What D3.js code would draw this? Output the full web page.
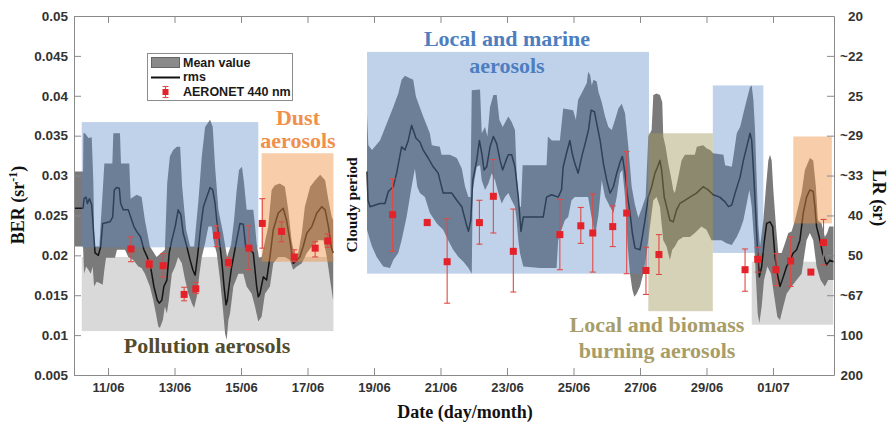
<!DOCTYPE html>
<html>
<head>
<meta charset="utf-8">
<script src="https://cdn.jsdelivr.net/npm/d3@7"></script>
<style>
  body { margin: 0; background: #fff; }
  svg { display: block; }
</style>
</head>
<body>
<svg id="chart" width="891" height="428"></svg>
<script>
// Time is a fractional day counted in June (31 = 1 July, 32 = 2 July).
// Each envelope/curve is a list of [day, BER (sr^-1)] vertices.

// ---- First observation period (10/06 - 17/06) ----
const upperA = [[10.00,.0305],[10.25,.0305],[10.26,.0353],[10.31,.0353],[10.41,.0347],[10.51,.0348],[10.56,.0291],[10.59,.0211],[10.74,.0211],[10.78,.0240],[10.83,.0273],[10.89,.0315],[11.13,.0315],[11.16,.0353],[11.36,.0353],[11.39,.0315],[11.64,.0315],[11.68,.0271],[11.86,.0276],[12.01,.0273],[12.11,.0244],[12.26,.0211],[12.46,.0198],[12.71,.0207],[12.78,.0290],[12.86,.0324],[12.96,.0332],[13.07,.0336],[13.17,.0336],[13.23,.0286],[13.35,.0232],[13.47,.0211],[13.59,.0211],[13.72,.0269],[13.82,.0324],[13.92,.0361],[14.07,.0370],[14.15,.0361],[14.22,.0311],[14.32,.0257],[14.46,.0228],[14.58,.0198],[14.70,.0213],[14.79,.0244],[14.87,.0282],[14.94,.0307],[15.03,.0311],[15.09,.0291],[15.17,.0257],[15.37,.0257],[15.42,.0238],[15.47,.0215],[15.54,.0197],[15.62,.0198],[15.82,.0236],[15.92,.0282],[16.02,.0288],[16.17,.0290],[16.32,.0286],[16.42,.0257],[16.52,.0219],[16.62,.0198],[16.72,.0203],[16.83,.0228],[16.92,.0261],[17.08,.0286],[17.23,.0294],[17.38,.0301],[17.53,.0294],[17.63,.0269],[17.73,.0248],[17.77,.0244]];

const rmsA = [[10.00,.0259],[10.25,.0259],[10.28,.0271],[10.34,.0273],[10.38,.0265],[10.44,.0271],[10.51,.0263],[10.56,.0232],[10.61,.0203],[10.71,.0200],[10.78,.0211],[10.84,.0240],[11.06,.0242],[11.14,.0248],[11.19,.0282],[11.26,.0285],[11.34,.0284],[11.38,.0265],[11.46,.0257],[11.61,.0257],[11.68,.0248],[11.78,.0236],[11.86,.0230],[11.98,.0223],[12.08,.0207],[12.18,.0198],[12.28,.0186],[12.38,.0161],[12.48,.0144],[12.54,.0140],[12.62,.0144],[12.68,.0161],[12.77,.0169],[12.84,.0203],[12.92,.0219],[13.02,.0236],[13.11,.0257],[13.19,.0251],[13.26,.0228],[13.37,.0211],[13.47,.0194],[13.55,.0182],[13.62,.0175],[13.69,.0198],[13.79,.0236],[13.87,.0261],[13.97,.0273],[14.07,.0285],[14.15,.0282],[14.22,.0265],[14.27,.0244],[14.32,.0228],[14.42,.0194],[14.49,.0161],[14.55,.0138],[14.59,.0144],[14.65,.0165],[14.72,.0186],[14.87,.0219],[14.97,.0240],[15.07,.0239],[15.14,.0211],[15.27,.0207],[15.37,.0203],[15.47,.0161],[15.52,.0148],[15.57,.0152],[15.67,.0173],[15.77,.0169],[15.87,.0198],[15.97,.0232],[16.12,.0253],[16.27,.0259],[16.37,.0244],[16.47,.0219],[16.57,.0190],[16.68,.0194],[16.77,.0198],[16.87,.0211],[16.98,.0228],[17.13,.0236],[17.28,.0253],[17.43,.0261],[17.53,.0257],[17.63,.0236],[17.71,.0211],[17.77,.0203]];

const lowerA = [[10.00,.0211],[10.25,.0211],[10.28,.0177],[10.34,.0186],[10.41,.0182],[10.48,.0177],[10.54,.0186],[10.58,.0161],[10.66,.0167],[10.76,.0165],[10.84,.0163],[10.89,.0182],[10.94,.0197],[11.21,.0197],[11.27,.0207],[11.51,.0207],[11.61,.0198],[11.76,.0194],[11.91,.0186],[12.01,.0184],[12.11,.0177],[12.26,.0161],[12.36,.0144],[12.44,.0127],[12.51,.0111],[12.56,.0109],[12.65,.0119],[12.71,.0136],[12.77,.0127],[12.83,.0144],[12.92,.0177],[13.02,.0186],[13.11,.0198],[13.22,.0190],[13.32,.0169],[13.42,.0152],[13.52,.0140],[13.59,.0134],[13.67,.0148],[13.75,.0177],[13.82,.0198],[13.92,.0215],[14.02,.0236],[14.12,.0236],[14.19,.0215],[14.27,.0203],[14.37,.0169],[14.45,.0136],[14.52,.0102],[14.57,.0094],[14.62,.0119],[14.67,.0127],[14.77,.0161],[14.92,.0177],[15.07,.0177],[15.17,.0161],[15.32,.0152],[15.42,.0136],[15.52,.0117],[15.62,.0123],[15.72,.0152],[15.87,.0161],[15.97,.0190],[16.12,.0198],[16.32,.0198],[16.47,.0194],[16.57,.0182],[16.68,.0186],[16.83,.0190],[16.98,.0203],[17.13,.0211],[17.32,.0219],[17.48,.0219],[17.58,.0198],[17.68,.0169],[17.77,.0144]];

// ---- Second observation period (18/06 - 02/07) ----
const upperB = [[18.79,.0376],[18.83,.0338],[18.94,.0332],[19.18,.0344],[19.38,.0365],[19.58,.0386],[19.73,.0403],[19.83,.0420],[19.93,.0425],[20.08,.0422],[20.18,.0420],[20.26,.0399],[20.48,.0374],[20.68,.0353],[20.74,.0338],[20.98,.0336],[21.03,.0326],[21.28,.0326],[21.49,.0322],[21.64,.0309],[21.74,.0286],[21.84,.0273],[21.90,.0273],[21.94,.0407],[22.19,.0408],[22.24,.0353],[22.34,.0361],[22.41,.0349],[22.49,.0386],[22.59,.0401],[22.69,.0401],[22.77,.0370],[22.87,.0361],[23.04,.0374],[23.14,.0367],[23.24,.0357],[23.29,.0303],[23.37,.0261],[23.42,.0261],[23.47,.0313],[24.19,.0313],[24.23,.0349],[24.35,.0344],[24.59,.0344],[24.69,.0384],[24.99,.0382],[25.07,.0370],[25.14,.0395],[25.29,.0407],[25.40,.0416],[25.44,.0430],[25.50,.0426],[25.55,.0413],[25.60,.0420],[25.70,.0418],[25.75,.0405],[25.85,.0392],[25.95,.0374],[26.05,.0361],[26.15,.0357],[26.25,.0370],[26.35,.0384],[26.45,.0390],[26.55,.0378],[26.65,.0336],[26.75,.0286],[26.85,.0263],[26.95,.0247],[27.04,.0257],[27.17,.0273],[27.25,.0349],[27.35,.0357],[27.40,.0401],[27.50,.0403],[27.60,.0401],[27.67,.0392],[27.70,.0349],[27.77,.0336],[27.85,.0315],[27.95,.0294],[28.00,.0282],[28.05,.0278],[28.15,.0298],[28.25,.0319],[28.35,.0326],[28.65,.0326],[28.71,.0336],[28.90,.0338],[29.01,.0334],[29.11,.0332],[29.20,.0328],[29.51,.0326],[29.56,.0313],[29.76,.0311],[29.81,.0324],[29.91,.0353],[30.01,.0361],[30.11,.0378],[30.21,.0395],[30.31,.0411],[30.36,.0413],[30.41,.0395],[30.46,.0357],[30.51,.0294],[30.56,.0236],[30.61,.0211],[30.71,.0244],[30.79,.0286],[30.86,.0319],[30.91,.0326],[30.96,.0319],[31.01,.0282],[31.09,.0236],[31.16,.0203],[31.26,.0203],[31.36,.0215],[31.46,.0228],[31.56,.0230],[31.66,.0244],[31.76,.0261],[31.86,.0278],[31.96,.0307],[32.11,.0322],[32.21,.0319],[32.29,.0286],[32.35,.0244],[32.46,.0240],[32.56,.0223],[32.63,.0228],[32.69,.0236],[32.82,.0236]];

const rmsB = [[18.79,.0305],[18.82,.0269],[18.88,.0261],[19.18,.0265],[19.33,.0265],[19.43,.0280],[19.58,.0286],[19.68,.0303],[19.83,.0336],[19.93,.0332],[20.03,.0344],[20.13,.0363],[20.18,.0357],[20.26,.0347],[20.38,.0342],[20.48,.0332],[20.63,.0322],[20.78,.0311],[20.93,.0303],[21.08,.0278],[21.34,.0278],[21.49,.0269],[21.64,.0261],[21.77,.0240],[21.84,.0230],[21.91,.0244],[21.97,.0294],[22.09,.0319],[22.17,.0344],[22.24,.0328],[22.31,.0307],[22.39,.0311],[22.49,.0336],[22.59,.0349],[22.69,.0340],[22.79,.0319],[22.87,.0307],[22.97,.0319],[23.04,.0326],[23.14,.0326],[23.24,.0311],[23.34,.0273],[23.42,.0230],[23.49,.0248],[24.09,.0248],[24.19,.0273],[24.34,.0276],[24.54,.0273],[24.64,.0282],[24.69,.0311],[24.79,.0328],[24.89,.0344],[24.96,.0328],[25.04,.0315],[25.14,.0303],[25.25,.0324],[25.35,.0340],[25.45,.0357],[25.53,.0382],[25.63,.0380],[25.70,.0365],[25.80,.0344],[25.90,.0315],[26.00,.0294],[26.10,.0278],[26.20,.0286],[26.30,.0303],[26.40,.0317],[26.47,.0324],[26.55,.0303],[26.63,.0273],[26.70,.0253],[26.77,.0228],[26.85,.0209],[27.00,.0207],[27.07,.0223],[27.15,.0244],[27.25,.0273],[27.35,.0286],[27.45,.0303],[27.53,.0311],[27.60,.0319],[27.65,.0307],[27.73,.0273],[27.80,.0261],[27.90,.0244],[28.00,.0242],[28.10,.0257],[28.20,.0265],[28.35,.0269],[28.50,.0273],[28.70,.0278],[28.90,.0286],[29.05,.0282],[29.20,.0276],[29.40,.0273],[29.56,.0267],[29.66,.0261],[29.76,.0263],[29.86,.0278],[30.01,.0298],[30.11,.0319],[30.21,.0336],[30.31,.0353],[30.36,.0344],[30.43,.0294],[30.49,.0244],[30.54,.0203],[30.59,.0173],[30.66,.0186],[30.73,.0215],[30.81,.0240],[30.91,.0242],[30.99,.0236],[31.06,.0198],[31.13,.0177],[31.21,.0161],[31.31,.0173],[31.41,.0186],[31.51,.0194],[31.61,.0203],[31.71,.0207],[31.81,.0219],[31.91,.0253],[32.01,.0273],[32.11,.0282],[32.21,.0280],[32.26,.0261],[32.31,.0236],[32.39,.0223],[32.49,.0203],[32.61,.0188],[32.71,.0194],[32.82,.0192]];

const lowerB = [[18.79,.0232],[18.88,.0219],[18.94,.0211],[19.08,.0198],[19.28,.0186],[19.48,.0184],[19.58,.0194],[19.73,.0203],[19.83,.0219],[19.98,.0248],[20.13,.0286],[20.23,.0309],[20.30,.0286],[20.38,.0278],[20.53,.0273],[20.68,.0253],[20.89,.0240],[21.08,.0232],[21.23,.0219],[21.38,.0207],[21.54,.0198],[21.69,.0192],[21.84,.0184],[21.94,.0177],[21.97,.0282],[22.09,.0311],[22.19,.0313],[22.24,.0294],[22.34,.0282],[22.44,.0290],[22.54,.0303],[22.64,.0294],[22.74,.0278],[22.84,.0265],[22.94,.0273],[23.04,.0278],[23.14,.0269],[23.24,.0261],[23.29,.0244],[23.34,.0219],[23.39,.0203],[23.49,.0186],[23.99,.0184],[24.49,.0184],[24.54,.0219],[24.64,.0232],[24.74,.0244],[24.84,.0248],[24.94,.0269],[25.04,.0273],[25.44,.0273],[25.53,.0251],[25.65,.0225],[25.75,.0251],[25.85,.0294],[25.95,.0273],[26.10,.0261],[26.20,.0253],[26.30,.0273],[26.40,.0303],[26.47,.0307],[26.55,.0273],[26.63,.0211],[26.70,.0177],[26.77,.0157],[26.83,.0148],[26.90,.0152],[27.00,.0161],[27.10,.0177],[27.20,.0203],[27.30,.0236],[27.40,.0269],[27.50,.0273],[27.60,.0261],[27.70,.0219],[27.80,.0211],[27.90,.0194],[27.97,.0207],[28.05,.0211],[28.15,.0219],[28.30,.0223],[28.50,.0223],[28.65,.0228],[28.85,.0236],[29.00,.0232],[29.15,.0219],[29.45,.0219],[29.60,.0215],[29.76,.0213],[29.91,.0223],[30.01,.0232],[30.11,.0244],[30.21,.0265],[30.29,.0282],[30.36,.0261],[30.43,.0219],[30.49,.0169],[30.54,.0127],[30.59,.0115],[30.66,.0136],[30.73,.0169],[30.83,.0186],[30.94,.0177],[31.04,.0148],[31.13,.0123],[31.21,.0119],[31.31,.0136],[31.41,.0152],[31.56,.0161],[31.71,.0169],[31.86,.0177],[32.01,.0219],[32.11,.0228],[32.21,.0219],[32.31,.0186],[32.43,.0169],[32.56,.0161],[32.66,.0169],[32.82,.0169]];

// AERONET 440 nm retrievals: day, BER, lower and upper bound of the error bar
const aeronetDay = [11.69,12.24,12.66,13.29,13.64,14.27,14.62,15.24,15.64,16.22,16.60,17.23,17.61,
                    19.56,20.60,21.20,22.17,22.59,23.19,24.59,25.22,25.58,26.18,26.60,27.18,27.57,
                    30.16,30.54,31.09,31.53,32.14,32.52];
const aeronetBER = [.0208,.0189,.0187,.0151,.0158,.0225,.0191,.0209,.0240,.0230,.0198,.0209,.0218,
                    .0251,.0241,.0192,.0241,.0274,.0205,.0226,.0237,.0228,.0236,.0253,.0181,.0201,
                    .0182,.0195,.0182,.0193,.0179,.0216];
const aeronetLo  = [.0192,.0184,.0173,.0143,.0152,.0211,.0185,.0182,.0209,.0217,.0192,.0198,.0210,
                    .0205,.0238,.0140,.0214,.0228,.0154,.0182,.0215,.0179,.0211,.0177,.0151,.0176,
                    .0155,.0179,.0162,.0161,.0176,.0188];
const aeronetHi  = [.0223,.0194,.0202,.0160,.0166,.0237,.0197,.0237,.0271,.0242,.0207,.0217,.0227,
                    .0296,.0245,.0246,.0269,.0320,.0258,.0270,.0260,.0277,.0262,.0330,.0210,.0226,
                    .0208,.0210,.0202,.0223,.0182,.0245];

// Aerosol-type periods: start/end day and BER span
const periodKind = ["pollution","pollution","marine","marine","marine","dust","dust","biomass"];
const periodStart = [10.21,30.36,10.21,18.79,29.19,15.62,31.61,27.25];
const periodEnd   = [17.78,32.81,15.52,27.27,30.71,17.78,32.77,29.19];
const periodLow   = [.0105,.0113,.0210,.0177,.0203,.0192,.0240,.0130];
const periodHigh  = [.0198,.0192,.0367,.0455,.0413,.0328,.0349,.0353];

// Axis ticks
const berTicks = [0.005,0.01,0.015,0.02,0.025,0.03,0.035,0.04,0.045,0.05];
const berTickLabels = ["0.005","0.01","0.015","0.02","0.025","0.03","0.035","0.04","0.045","0.05"];
const lrTickLabels = ["200","100","~67","50","40","~33","~29","25","~22","20"];
const dateTicks = [11,13,15,17,19,21,23,25,27,29,31];

// ---------------------------------------------------------------
const toDate = d => new Date(Date.UTC(2013, 5, 1) + (d - 1) * 864e5);

const M = { l: 74, r: 834, t: 16, b: 375 };
const svg = d3.select("#chart");

const x = d3.scaleUtc().domain([toDate(9.977), toDate(32.835)]).range([M.l, M.r]);
const y = d3.scaleLinear().domain([0.005, 0.05]).range([M.b, M.t]);

const SERIF = "'Liberation Serif', 'Times New Roman', serif";
const SANS = "'Liberation Sans', Arial, sans-serif";

const fillOf = {
  pollution: { fill: "#d9d9d9", op: 1 },
  marine:    { fill: "rgb(88,138,200)", op: 0.38 },
  dust:      { fill: "rgb(237,144,66)", op: 0.45 },
  biomass:   { fill: "rgb(165,155,95)", op: 0.45 }
};
const periods = periodKind.map((k, i) => ({
  kind: k, t0: periodStart[i], t1: periodEnd[i], lo: periodLow[i], hi: periodHigh[i]
}));

const px = d => x(toDate(d[0]));
const py = d => y(d[1]);
const line = d3.line().x(px).y(py);

function periodRect(g, p) {
  g.append("rect")
    .attr("x", x(toDate(p.t0)))
    .attr("y", y(p.hi))
    .attr("width", x(toDate(p.t1)) - x(toDate(p.t0)))
    .attr("height", y(p.lo) - y(p.hi))
    .attr("fill", fillOf[p.kind].fill)
    .attr("fill-opacity", fillOf[p.kind].op);
}

// Pollution periods sit underneath the curves
const under = svg.append("g");
periods.filter(p => p.kind === "pollution").forEach(p => periodRect(under, p));

// Mean value envelope and rms curve
const curves = svg.append("g");
[[upperA, lowerA], [upperB, lowerB]].forEach(([up, lo]) => {
  curves.append("path")
    .attr("d", line(up.concat(lo.slice().reverse())) + "Z")
    .attr("fill", "#7a7a7a");
});
[rmsA, rmsB].forEach(r => {
  curves.append("path")
    .attr("d", line(r))
    .attr("fill", "none")
    .attr("stroke", "#141414")
    .attr("stroke-width", 1.5)
    .attr("stroke-linejoin", "round");
});

// Translucent marine / dust / biomass periods laid over the curves
const over = svg.append("g");
periods.filter(p => p.kind !== "pollution").forEach(p => periodRect(over, p));

// AERONET points with error bars
const pts = svg.append("g");
aeronetDay.forEach((d, i) => {
  const cx = x(toDate(d));
  const yLo = y(aeronetLo[i]), yHi = y(aeronetHi[i]), yc = y(aeronetBER[i]);
  const g = pts.append("g").attr("stroke", "#e04a44").attr("stroke-width", 1.1);
  g.append("line").attr("x1", cx).attr("x2", cx).attr("y1", yHi).attr("y2", yLo);
  g.append("line").attr("x1", cx - 3).attr("x2", cx + 3).attr("y1", yHi).attr("y2", yHi);
  g.append("line").attr("x1", cx - 3).attr("x2", cx + 3).attr("y1", yLo).attr("y2", yLo);
  pts.append("rect").attr("x", cx - 3.5).attr("y", yc - 3.5).attr("width", 7).attr("height", 7)
    .attr("fill", "#e3222a");
});

// Axes (ticks point inward, boxed frame)
const axisColor = "#8a8a8a";
function styleAxis(g, size) {
  g.selectAll(".domain").attr("stroke", axisColor);
  g.selectAll(".tick line").attr("stroke", axisColor);
  g.selectAll(".tick text").attr("fill", "#333")
    .style("font-family", SANS).style("font-weight", "bold").style("font-size", size + "px");
}
const dateVals = dateTicks.map(toDate);
svg.append("g").attr("transform", `translate(0,${M.b})`)
  .call(d3.axisBottom(x).tickValues(dateVals).tickFormat(d3.utcFormat("%d/%m"))
    .tickSize(-7).tickSizeOuter(0).tickPadding(8))
  .call(styleAxis, 13);
svg.append("g").attr("transform", `translate(0,${M.t})`)
  .call(d3.axisTop(x).tickValues(dateVals).tickFormat("").tickSize(-7).tickSizeOuter(0))
  .call(styleAxis, 13);
svg.append("g").attr("transform", `translate(${M.l},0)`)
  .call(d3.axisLeft(y).tickValues(berTicks).tickFormat((d, i) => berTickLabels[i])
    .tickSize(-7).tickSizeOuter(0).tickPadding(6))
  .call(styleAxis, 13.5);
svg.append("g").attr("transform", `translate(${M.r},0)`)
  .call(d3.axisRight(y).tickValues(berTicks).tickFormat((d, i) => lrTickLabels[i])
    .tickSize(-7).tickSizeOuter(0).tickPadding(29))
  .call(styleAxis, 13.5)
  .call(g => g.selectAll(".tick text").attr("text-anchor", "end"));

// Axis titles
const title = (sel) => sel.attr("font-family", SERIF).attr("font-weight", "bold").attr("fill", "#111");
const berT = svg.append("text").call(title).attr("font-size", 18)
  .attr("text-anchor", "middle").attr("transform", "translate(24,205) rotate(-90)");
berT.append("tspan").text("BER (sr");
berT.append("tspan").attr("font-size", 12).attr("dy", -7).text("-1");
berT.append("tspan").attr("dy", 7).text(")");
svg.append("text").call(title).attr("font-size", 18).attr("text-anchor", "middle")
  .attr("transform", "translate(873,198) rotate(90)").text("LR (sr)");
svg.append("text").call(title).attr("font-size", 18).attr("text-anchor", "middle")
  .attr("x", 465).attr("y", 418).text("Date (day/month)");
svg.append("text").call(title).attr("font-size", 15.5).attr("text-anchor", "middle")
  .attr("transform", "translate(357,205) rotate(-90)").text("Cloudy period");

// Period annotations
const notes = [
  { lines: ["Local and marine", "aerosols"], x: 507, y: [46, 73], color: "#4d7ec0" },
  { lines: ["Dust", "aerosols"], x: 298, y: [125, 148], color: "#f0904a" },
  { lines: ["Pollution aerosols"], x: 207, y: [353], color: "#524c2c" },
  { lines: ["Local and biomass", "burning aerosols"], x: 657, y: [332, 358], color: "#a89d68" }
];
notes.forEach(n => n.lines.forEach((t, i) => {
  svg.append("text").attr("x", n.x).attr("y", n.y[i]).attr("text-anchor", "middle")
    .attr("font-family", SERIF).attr("font-weight", "bold").attr("font-size", 22)
    .attr("fill", n.color).text(t);
}));

// Legend
const lg = svg.append("g");
lg.append("rect").attr("x", 147.5).attr("y", 53.5).attr("width", 145).attr("height", 47)
  .attr("fill", "#fff").attr("stroke", "#8c8c8c");
lg.append("rect").attr("x", 151.5).attr("y", 57.5).attr("width", 28).attr("height", 10)
  .attr("fill", "#8a8a8a").attr("stroke", "#666");
lg.append("line").attr("x1", 151).attr("x2", 180).attr("y1", 77.5).attr("y2", 77.5)
  .attr("stroke", "#111").attr("stroke-width", 2);
const lgm = lg.append("g").attr("stroke", "#e04a44").attr("stroke-width", 1.1);
lgm.append("line").attr("x1", 165.5).attr("x2", 165.5).attr("y1", 86.5).attr("y2", 97.5);
lgm.append("line").attr("x1", 162.5).attr("x2", 168.5).attr("y1", 86.5).attr("y2", 86.5);
lgm.append("line").attr("x1", 162.5).attr("x2", 168.5).attr("y1", 97.5).attr("y2", 97.5);
lg.append("rect").attr("x", 162.5).attr("y", 89).attr("width", 6).attr("height", 6).attr("fill", "#e3222a");
[["Mean value", 67], ["rms", 81], ["AERONET 440 nm", 96]].forEach(([t, yy]) => {
  lg.append("text").attr("x", 183).attr("y", yy).attr("font-family", SANS)
    .attr("font-weight", "bold").attr("font-size", 12.5).attr("fill", "#1a1a1a").text(t);
});
</script>
</body>
</html>
